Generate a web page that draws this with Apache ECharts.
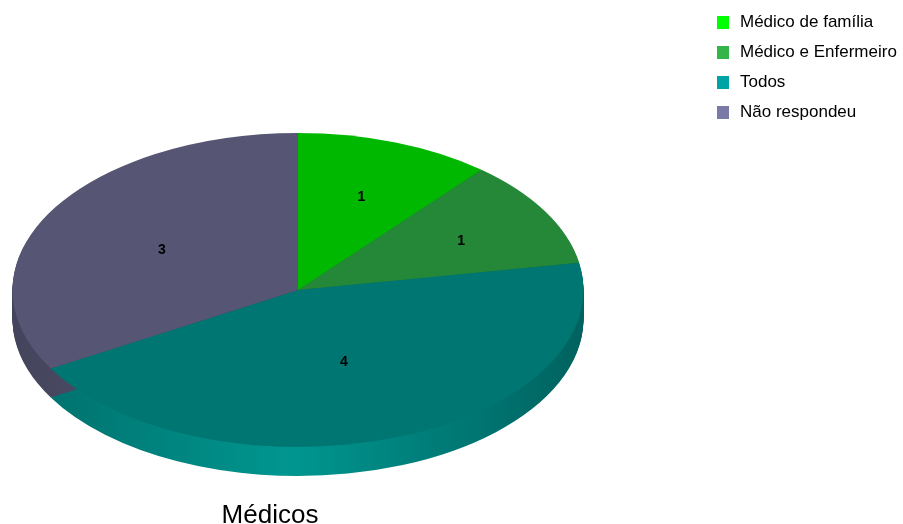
<!DOCTYPE html>
<html lang="pt">
<head>
    <meta charset="UTF-8">
    <title>Médicos</title>
    <script src="https://cdn.jsdelivr.net/npm/echarts@6/dist/echarts.min.js"></script>
    <style>
        body { margin: 0; padding: 0; background: #fff; }
        #main { width: 903px; height: 524px; }
    </style>
</head>
<body>
    <div id="main"></div>
    <script type="text/javascript">
        // dados do gráfico
        var categories = ['Médico de família', 'Médico e Enfermeiro', 'Todos', 'Não respondeu'];
        var values = [1, 1, 4, 3];

        // cores
        var topColors = ['#00b800', '#248838', '#007672', '#565674'];
        var sideColors = [
            ['#009a00', '#00a800', '#008a00'],
            ['#1d742e', '#22803a', '#1a6a2a'],
            ['#00736f', '#009690', '#00625f'],
            ['#44445c', '#4d4d69', '#3f3f56']
        ];
        var legendColors = ['#00ff00', '#33b54a', '#00a3a3', '#7a7aa8'];
        var labelRadius = [0.65, 0.66, 0.47, 0.55];

        // geometria da pizza 3D
        var cx = 298, cy = 290, rx = 285.5, ry = 157, depth = 29;
        var squash = ry / rx;

        var total = values.reduce(function (a, b) { return a + b; }, 0);

        var chart = echarts.init(document.getElementById('main'));

        function renderItem(params, api) {
            var i = params.dataIndex;
            var v = api.value(0);
            var before = 0;
            for (var j = 0; j < i; j++) before += values[j];
            var start = -Math.PI / 2 + 2 * Math.PI * before / total;
            var end = start + 2 * Math.PI * v / total;

            var pieces = [];
            // lateral (camadas empilhadas)
            for (var d = depth; d >= 1; d--) {
                pieces.push({
                    type: 'sector',
                    z2: 1,
                    shape: { cx: 0, cy: d / squash, r0: 0, r: rx, startAngle: start, endAngle: end, clockwise: true },
                    style: {
                        fill: new echarts.graphic.LinearGradient(0, 0, 1, 0, [
                            { offset: 0, color: sideColors[i][0] },
                            { offset: 0.45, color: sideColors[i][1] },
                            { offset: 1, color: sideColors[i][2] }
                        ])
                    }
                });
            }
            // topo
            pieces.push({
                type: 'sector',
                z2: 100,
                shape: { cx: 0, cy: 0, r0: 0, r: rx, startAngle: start, endAngle: end, clockwise: true },
                style: { fill: topColors[i] }
            });

            var mid = (start + end) / 2;
            var k = labelRadius[i];
            return {
                type: 'group',
                children: [
                    {
                        type: 'group',
                        x: cx,
                        y: cy,
                        scaleY: squash,
                        children: pieces
                    },
                    {
                        type: 'text',
                        z2: 200,
                        x: cx + rx * k * Math.cos(mid),
                        y: cy + ry * k * Math.sin(mid) + 3,
                        style: {
                            text: String(v),
                            fill: '#000',
                            font: 'bold 14px "Liberation Sans", Arial, sans-serif',
                            align: 'center',
                            verticalAlign: 'middle'
                        }
                    }
                ]
            };
        }

        var option = {
            animation: false,
            title: {
                text: 'Médicos',
                left: 265,
                top: 498,
                textAlign: 'center',
                textStyle: {
                    fontFamily: 'Liberation Sans',
                    fontSize: 26,
                    fontWeight: 'normal',
                    color: '#000'
                }
            },
            legend: {
                orient: 'vertical',
                left: 717,
                top: 14,
                padding: 0,
                itemWidth: 12,
                itemHeight: 13,
                itemGap: 13,
                icon: 'rect',
                data: categories,
                textStyle: {
                    fontFamily: 'Liberation Sans',
                    fontSize: 17,
                    color: '#000',
                    padding: [0, 0, 0, 6]
                }
            },
            series: [
                {
                    type: 'custom',
                    name: 'Médicos',
                    coordinateSystem: 'none',
                    renderItem: renderItem,
                    data: values.map(function (v, i) {
                        return { name: categories[i], value: [v] };
                    })
                },
                {
                    // série auxiliar só para a legenda
                    type: 'pie',
                    name: 'legenda',
                    radius: [0, 0],
                    silent: true,
                    label: { show: false },
                    labelLine: { show: false },
                    data: values.map(function (v, i) {
                        return { name: categories[i], value: v, itemStyle: { color: legendColors[i] } };
                    })
                }
            ]
        };

        chart.setOption(option);
    </script>
</body>
</html>
